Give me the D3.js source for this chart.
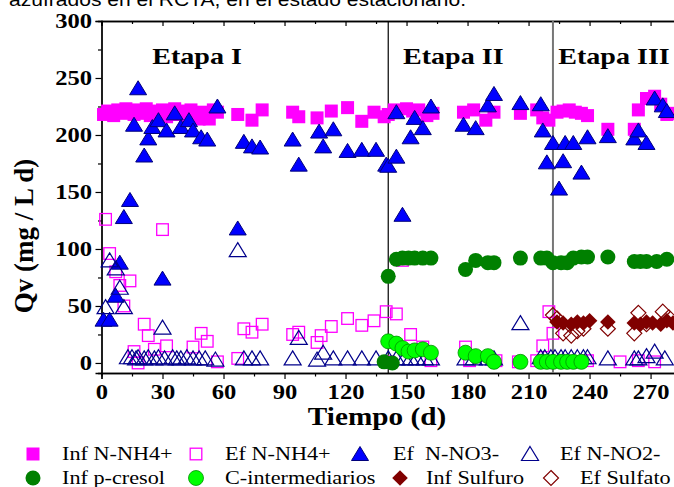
<!DOCTYPE html>
<html><head><meta charset="utf-8">
<script src="https://cdn.jsdelivr.net/npm/d3@7/dist/d3.min.js"></script>
<style>body{margin:0;background:#fff}text{font-family:"Liberation Serif","Times New Roman",serif}</style>
</head><body><svg id="c" width="674" height="487"></svg>
<script>
const xTicks=[0,30,60,90,120,150,180,210,240,270];
const yTicks=[0,50,100,150,200,250,300];
const stageBounds=[141,222];
const stageLabels=["Etapa I","Etapa II","Etapa III"];
const stageLabelDays=[47,173,252];

const infNH4=[[1,218],[3,221],[6,217],[8,222],[10,219],[12,223],[14,220],[16,218],[18,222],[20,219],[22,223],[24,217],[26,221],[28,219],[30,222],[32,216],[34,220],[36,223],[38,218],[40,221],[42,217],[44,222],[46,219],[48,214],[50,220],[53,214],[55,222],[57,220],[67,218],[74,213],[79,222],[94,220],[97,216],[106,215],[113,221],[121,224],[128,212],[134,220],[139,216],
[141,218],[144,222],[150,223],[153,221],[156,222],[160,217],[163,219],[178,220],[183,222],[189,213],[193,220],[206,219],[214,222],[217,215],[220,213],[224,220],[227,221],[230,222],[233,220],[236,219],[239,217],[249,205],[262,205],[264,222],[268,232],[272,234],[275,227],[278,218],[281,219]];
const efNH4=[[2,126],[4,96],[7,80],[9,68],[11,50],[14,72],[16,10],[18,0],[21,34],[23,24],[26,12],[30,117],[32,15],[45,14],[49,26],[52,19],[57,1],[67,4],[70,30],[74,27],[79,34],[94,25],[97,27],[106,18],[108,24],[113,32],[121,39],[128,33],[134,37],[140,45],[141,1],[145,43],[148,90],[152,25],[158,14],[162,2],[179,14],[181,2],[194,2],[205,1],[214,2],[217,15],[220,45],[222,26],[233,1],[239,2],[255,1],[264,2],[272,1]];
const efNO3=[[1,38],[4,38],[7,59],[9,88],[11,128],[14,143],[16,209],[18,241],[21,182],[23,197],[25,207],[28,213],[30,74],[32,204],[36,219],[39,207],[43,213],[45,204],[49,198],[52,196],[57,225],[67,118],[70,194],[74,190],[78,189],[94,196],[97,174],[107,203],[109,190],[114,205],[121,186],[128,187],[135,187],[140,174],[141,173],[145,181],[145,220],[148,130],[152,198],[154,215],[158,206],[162,225],[178,209],[184,206],[190,226],[193,236],[206,228],[216,227],[217,204],[219,176],[222,193],[225,153],[227,177],[228,193],[232,193],[236,167],[239,198],[249,199],[262,197],[264,204],[268,193],[272,232],[276,226],[278,221]];
const efNO2=[[2,49],[4,90],[7,83],[9,66],[11,49],[30,31],[67,99],[97,22],[109,9],[206,35],[272,10],
[13,5],[15,5],[17,4],[18,5],[21,4],[23,5],[26,4],[28,5],[31,4],[35,5],[37,4],[39,4],[42,5],[45,4],[48,4],[51,4],[56,3],[70,4],[74,4],[78,4],[94,4],[106,3],[114,4],[121,4],[128,4],[135,4],[141,4],[145,4],[149,4],[152,4],[155,4],[159,4],[162,4],[179,4],[183,4],[190,4],[193,4],[216,5],[218,5],[221,5],[223,5],[226,5],[228,5],[231,5],[234,5],[237,5],[239,5],[249,4],[262,4],[264,4],[268,6],[277,4]];
const infPcresol=[[139,1],[143,0],[141,76],[145,91],[148,92],[151,92],[154,92],[158,92],[162,92],[179,82],[184,90],[190,88],[193,88],[206,92],[216,92],[219,92],[222,88],[226,88],[229,88],[232,92],[236,93],[239,93],[249,93],[262,89],[265,89],[268,89],[273,89],[278,91]];
const cInter=[[141,19],[145,17],[148,13],[151,10],[154,11],[158,12],[162,9],[179,9],[184,6],[190,6],[193,1],[206,1],[216,1],[219,1],[222,1],[226,1],[229,1],[232,1],[236,1]];
const infSulfuro=[[224,36],[227,35],[231,34],[234,36],[237,35],[240,37],[249,36],[262,35],[265,34],[268,36],[271,35],[275,34],[278,37],[281,35]];
const efSulfato=[[222,42],[224,39],[227,26],[231,24],[234,28],[237,30],[249,30],[262,26],[264,44],[268,34],[276,45],[279,40]];

const legendNames=["Inf N-NH4+","Ef N-NH4+","Ef  N-NO3-","Ef N-NO2-","Inf p-cresol","C-intermediarios","Inf Sulfuro","Ef Sulfato"];

const svg=d3.select("#c");
const L=101.5,T=21,B=373,R=677;
const SX=1.17;
const x=d3.scaleLinear().domain([0,283]).range([L,R]);
const y=d3.scaleLinear().domain([-8.8,300]).range([B,T]);

function stext(px,py,str,size,weight,anchor,fam){
  return svg.append("text").attr("transform",`translate(${px},${py}) scale(${SX},1)`)
    .attr("text-anchor",anchor||"start").style("font-size",size+"px").style("font-weight",weight||"normal")
    .style("font-family",fam||"'Liberation Serif',serif").attr("xml:space","preserve").style("white-space","pre").text(str);
}

// header text cut off
stext(9,6,"azufrados en el RCTA, en el estado estacionario.",18,"normal","start","'Liberation Sans',Arial,sans-serif");

const shapes={
  sqF:(g,s)=>g.append("rect").attr("x",-6.5).attr("y",-6.5).attr("width",13).attr("height",13).attr("fill",s.c).attr("stroke","none"),
  sqO:(g,s)=>g.append("rect").attr("x",-5.8).attr("y",-5.8).attr("width",11.6).attr("height",11.6).attr("fill","none").attr("stroke",s.c).attr("stroke-width",1.3),
  triF:(g,s)=>g.append("path").attr("d","M0,-7.5L8.5,6.5L-8.5,6.5Z").attr("fill",s.c).attr("stroke","#00007a").attr("stroke-width",1),
  triO:(g,s)=>g.append("path").attr("d","M0,-7.5L8.5,6.5L-8.5,6.5Z").attr("fill","none").attr("stroke",s.c).attr("stroke-width",1.2),
  cirF:(g,s)=>g.append("circle").attr("r",7.5).attr("fill",s.c).attr("stroke",s.s||"none").attr("stroke-width",0.8),
  diaF:(g,s)=>g.append("path").attr("d","M0,-7.8L7.8,0L0,7.8L-7.8,0Z").attr("fill",s.c).attr("stroke","none"),
  diaO:(g,s)=>g.append("path").attr("d","M0,-7.5L7.5,0L0,7.5L-7.5,0Z").attr("fill","none").attr("stroke",s.c).attr("stroke-width",1.2)
};
const series=[
  {d:infNH4,sh:"sqF",c:"#ff00ff"},
  {d:efNH4,sh:"sqO",c:"#ff00ff"},
  {d:efNO3,sh:"triF",c:"#0000ff"},
  {d:efNO2,sh:"triO",c:"#00008b"},
  {d:infPcresol,sh:"cirF",c:"#008000"},
  {d:cInter,sh:"cirF",c:"#00ff00",s:"#009000"},
  {d:efSulfato,sh:"diaO",c:"#800000"},
  {d:infSulfuro,sh:"diaF",c:"#800000"}
];
const legendSeries=[0,1,2,3,4,5,7,6];

// frame & axes
svg.append("g").attr("transform",`translate(0,${B})`).call(d3.axisBottom(x).tickValues(xTicks).tickSize(6).tickPadding(5).tickFormat(d3.format("d")));
svg.append("g").attr("transform",`translate(0,${B})`).call(d3.axisBottom(x).tickValues(xTicks.map(v=>v+15)).tickSize(3.5).tickFormat(""));
svg.append("g").attr("transform",`translate(${L},0)`).call(d3.axisLeft(y).tickValues(yTicks).tickSize(6).tickPadding(2).tickFormat(d3.format("d")));
svg.append("g").attr("transform",`translate(${L},0)`).call(d3.axisLeft(y).tickValues(yTicks.slice(0,-1).map(v=>v+25)).tickSize(3.5).tickFormat(""));
svg.append("g").attr("transform",`translate(0,${T})`).call(d3.axisBottom(x).tickValues(xTicks).tickSize(5).tickFormat(""));
svg.append("g").attr("transform",`translate(0,${T})`).call(d3.axisBottom(x).tickValues(xTicks.map(v=>v+15)).tickSize(3).tickFormat(""));
svg.selectAll(".domain").attr("stroke","#000").attr("stroke-width",1.3);
svg.selectAll(".tick line").attr("stroke","#000").attr("stroke-width",1.2);
svg.selectAll(".tick text").attr("transform",`scale(${SX},1)`).style("font-family","'Liberation Serif',serif").style("font-weight","bold").style("font-size","21px").attr("fill","#000");

// stage lines
svg.append("line").attr("x1",x(stageBounds[0])).attr("x2",x(stageBounds[0])).attr("y1",T).attr("y2",B).attr("stroke","#000").attr("stroke-width",1.2);
svg.append("line").attr("x1",x(stageBounds[1])).attr("x2",x(stageBounds[1])).attr("y1",T).attr("y2",B).attr("stroke","#777").attr("stroke-width",2);

stageLabels.forEach((t,i)=>stext(x(stageLabelDays[i]),64,t,24,"bold","middle"));

// data
const plot=svg.append("g");
series.forEach(s=>{
  s.d.forEach(p=>{
    const g=plot.append("g").attr("transform",`translate(${x(p[0])},${y(p[1])})`);
    shapes[s.sh](g,s);
  });
});

// axis titles
stext(377,425,"Tiempo (d)",25,"bold","middle");
svg.append("text").attr("transform","translate(33,236) rotate(-90)").attr("text-anchor","middle").style("font-weight","bold").style("font-size","27px").text("Qv (mg / L d)");

// legend
const lgX=[[33,196,360,530],[33,196,400,551]], lgTX=[[62,225,393,560],[62,225,426,580]], lgY=[454,478];
legendSeries.forEach((si,k)=>{
  const s=series[si], r=Math.floor(k/4), c=k%4;
  const g=svg.append("g").attr("transform",`translate(${lgX[r][c]},${lgY[r]})`);
  shapes[s.sh](g,s);
  stext(lgTX[r][c],lgY[r]+6,legendNames[k],19,"normal","start");
});
</script></body></html>
